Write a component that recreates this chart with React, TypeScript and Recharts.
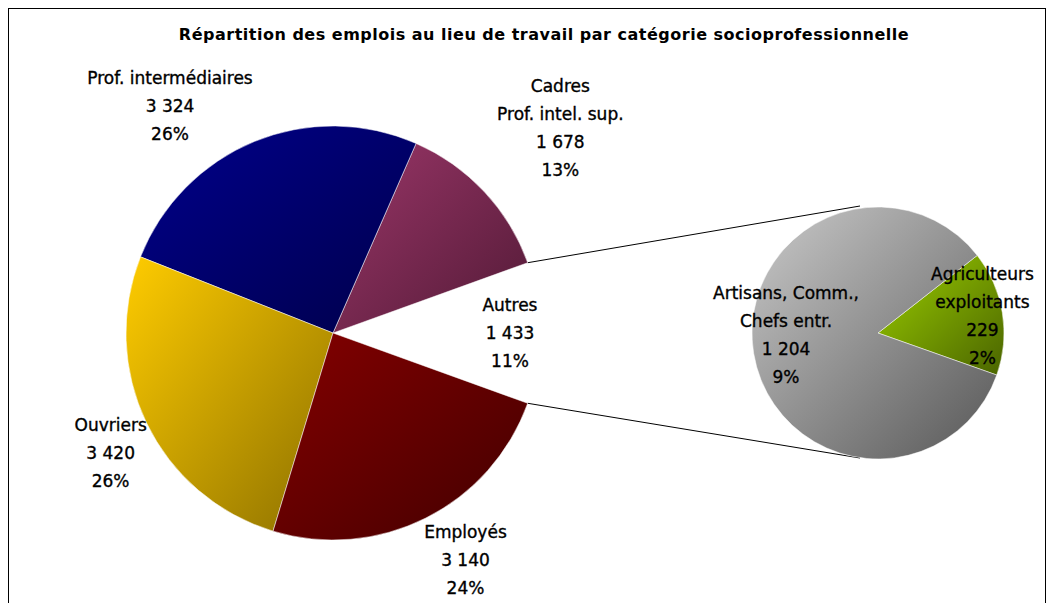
import { Cell, Customized, Pie, PieChart } from "recharts";

const TITLE =
  "Répartition des emplois au lieu de travail par catégorie socioprofessionnelle";

// main pie (order = counter-clockwise from the "Autres" gap)
const mainNames = [
  "Cadres\nProf. intel. sup.",
  "Prof. intermédiaires",
  "Ouvriers",
  "Employés",
  "Autres",
];
const mainValues = [1678, 3324, 3420, 3140, 1433];

// secondary pie (breakdown of "Autres")
const subNames = ["Agriculteurs\nexploitants", "Artisans, Comm.,\nChefs entr."];
const subValues = [229, 1204];

const TOTAL = mainValues.reduce((a, b) => a + b, 0);
const AUTRES = mainValues[mainValues.length - 1];

const mainData = mainNames.map((name, i) => ({ name, value: mainValues[i] }));
const subData = subNames.map((name, i) => ({ name, value: subValues[i] }));

const GRADS: Record<string, [string, string]> = {
  "Cadres\nProf. intel. sup.": ["#9a3668", "#521a36"],
  "Prof. intermédiaires": ["#00008c", "#00004a"],
  Ouvriers: ["#ffcc00", "#8c7000"],
  Employés: ["#840000", "#420000"],
  "Agriculteurs\nexploitants": ["#9ccf00", "#4a6400"],
  "Artisans, Comm.,\nChefs entr.": ["#cacaca", "#575757"],
};

// label placement: radius factor of outerRadius, angle shift from mid angle
const LABEL_LAYOUT: Record<string, [number, number]> = {
  "Cadres\nProf. intel. sup.": [1.48, -1],
  "Prof. intermédiaires": [1.35, 13.3],
  Ouvriers: [1.22, 2.5],
  Employés: [1.27, 3.6],
  Autres: [0.855, 0],
  "Agriculteurs\nexploitants": [0.84, 0.0],
  "Artisans, Comm.,\nChefs entr.": [0.73, -8.2],
};

const W = 1036;
const H = 620;
const CX1 = 324;
const CY1 = 324;
const R1 = 207;
const CX2 = 869;
const CY2 = 324;
const R2 = 126;

const autresDeg = (AUTRES / TOTAL) * 360;
const MAIN_START = autresDeg / 2;
const SUB_START = -19.5;

const RAD = Math.PI / 180;
const FONT = "'DejaVu Sans', Verdana, sans-serif";

const fmt = (v: number) => String(v).replace(/\B(?=(\d{3})+(?!\d))/g, " ");
const gradId = (name: string) => "g" + Object.keys(GRADS).indexOf(name);

function renderLabel(props: any) {
  const { cx, cy, midAngle, outerRadius, name, value } = props;
  const [rf, shift] = LABEL_LAYOUT[name] ?? [1.2, 0];
  const a = (midAngle + shift) * RAD;
  const r = outerRadius * rf;
  const x = cx + r * Math.cos(a);
  const y = cy - r * Math.sin(a);
  const lines = [...String(name).split("\n"), fmt(value), `${Math.round((value / TOTAL) * 100)}%`];
  const lh = 28;
  const y0 = y - ((lines.length - 1) * lh) / 2;
  return (
    <text
      key={name}
      x={x}
      y={y0}
      textAnchor="middle"
      fontFamily={FONT}
      fontSize={17}
      fill="#000"
      stroke="#000"
      strokeWidth={0.35}
    >
      {lines.map((l, i) => (
        <tspan key={i} x={x} y={y0 + i * lh} dominantBaseline="central">
          {l}
        </tspan>
      ))}
    </text>
  );
}

function Connectors() {
  const a = MAIN_START * RAD;
  const x1 = CX1 + R1 * Math.cos(a);
  const yTop = CY1 - R1 * Math.sin(a);
  const yBot = CY1 + R1 * Math.sin(a);
  return (
    <g>
      <line x1={x1} y1={yTop} x2={CX2 - 18} y2={CY2 - R2 - 1} stroke="#000" strokeWidth={1} />
      <line x1={x1} y1={yBot} x2={CX2 - 18} y2={CY2 + R2 - 1} stroke="#000" strokeWidth={1} />
    </g>
  );
}

export default function App() {
  return (
    <div
      style={{
        width: W,
        height: H,
        border: "1px solid #000",
        position: "relative",
        background: "#fff",
      }}
    >
      <div
        style={{
          position: "absolute",
          left: 17,
          top: 16,
          width: W,
          textAlign: "center",
          fontFamily: FONT,
          fontWeight: "bold",
          fontSize: 16,
          letterSpacing: 0.5,
          color: "#000",
        }}
      >
        {TITLE}
      </div>
      <PieChart
        width={W}
        height={H}
        margin={{ top: 0, right: 0, bottom: 0, left: 0 }}
        style={{ position: "absolute", left: 0, top: 0 }}
      >
        <defs>
          {Object.entries(GRADS).map(([k, [c1, c2]]) => (
            <linearGradient key={k} id={gradId(k)} x1="0" y1="0" x2="1" y2="1">
              <stop offset="0%" stopColor={c1} />
              <stop offset="100%" stopColor={c2} />
            </linearGradient>
          ))}
        </defs>
        <Customized component={<Connectors />} />
        <Pie
          data={mainData}
          dataKey="value"
          nameKey="name"
          cx={CX1}
          cy={CY1}
          outerRadius={R1}
          startAngle={MAIN_START}
          endAngle={MAIN_START + 360}
          label={renderLabel}
          labelLine={false}
          isAnimationActive={false}
        >
          {mainData.map((d) =>
            d.name === "Autres" ? (
              <Cell key={d.name} fill="none" stroke="none" />
            ) : (
              <Cell key={d.name} fill={`url(#${gradId(d.name)})`} stroke="#ffffff" strokeWidth={0.5} />
            )
          )}
        </Pie>
        <Pie
          data={subData}
          dataKey="value"
          nameKey="name"
          cx={CX2}
          cy={CY2}
          outerRadius={R2}
          startAngle={SUB_START}
          endAngle={SUB_START + 360}
          label={renderLabel}
          labelLine={false}
          isAnimationActive={false}
        >
          {subData.map((d) => (
            <Cell key={d.name} fill={`url(#${gradId(d.name)})`} stroke="#ffffff" strokeWidth={0.5} />
          ))}
        </Pie>
      </PieChart>
    </div>
  );
}
